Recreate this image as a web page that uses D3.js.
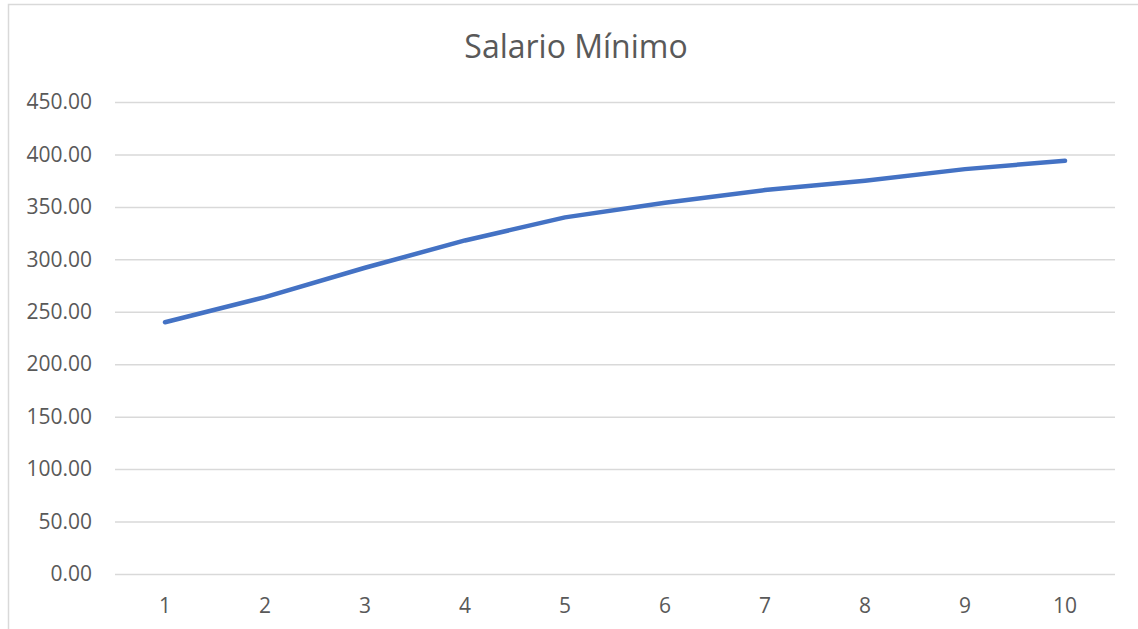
<!DOCTYPE html>
<html>
<head>
<meta charset="utf-8">
<script src="https://cdn.jsdelivr.net/npm/d3@7"></script>
<style>
  html, body { margin: 0; padding: 0; background: #ffffff; }
</style>
</head>
<body>
<div id="chart"></div>
<script>

// chart data
const categories = ["1", "2", "3", "4", "5", "6", "7", "8", "9", "10"];
const salario = [240, 264, 292, 318, 340, 354, 366, 375, 386, 394];
const yTicks = [0, 50, 100, 150, 200, 250, 300, 350, 400, 450];
const chartTitle = "Salario Mínimo";


const W = 1138, H = 629;
const fontFamily = "'Open Sans', 'Noto Sans', sans-serif";
const textColor = "#595959";
const gridColor = "#d9d9d9";

const plot = { left: 115, right: 1115, top: 102, bottom: 574 };


const svg = d3.select("#chart").append("svg")
  .attr("width", W)
  .attr("height", H);

// chart area frame (top and left edges only visible)
svg.append("path")
  .attr("d", "M8.5," + H + "V4.5H" + W)
  .attr("fill", "none")
  .attr("stroke", gridColor)
  .attr("stroke-width", 1.5);


const x = d3.scaleBand()
  .domain(categories)
  .range([plot.left, plot.right]);

const y = d3.scaleLinear()
  .domain([0, 450])
  .range([plot.bottom, plot.top]);


// horizontal gridlines + y labels
const yAxis = d3.axisLeft(y)
  .tickValues(yTicks)
  .tickSize(-(plot.right - plot.left))
  .tickPadding(23)
  .tickFormat(d3.format(".2f"));

const gy = svg.append("g")
  .attr("transform", "translate(" + plot.left + ",0)")
  .call(yAxis);

gy.select(".domain").remove();
gy.selectAll(".tick line")
  .attr("stroke", gridColor)
  .attr("stroke-width", 1.5);
gy.selectAll(".tick text")
  .attr("font-family", fontFamily)
  .attr("font-size", 21)
  .attr("fill", textColor);


// category labels
const xAxis = d3.axisBottom(x)
  .tickSize(0)
  .tickPadding(24);

const gx = svg.append("g")
  .attr("transform", "translate(0," + plot.bottom + ")")
  .call(xAxis);

gx.select(".domain").remove();
gx.selectAll(".tick text")
  .attr("font-family", fontFamily)
  .attr("font-size", 21)
  .attr("fill", textColor);


// the series line
const line = d3.line()
  .x((d, i) => x(categories[i]) + x.bandwidth() / 2)
  .y(d => y(d));

svg.append("path")
  .datum(salario)
  .attr("d", line)
  .attr("fill", "none")
  .attr("stroke", "#4472c4")
  .attr("stroke-width", 4.5)
  .attr("stroke-linecap", "round")
  .attr("stroke-linejoin", "round");


// title
svg.append("text")
  .attr("x", 576)
  .attr("y", 58)
  .attr("text-anchor", "middle")
  .attr("font-family", fontFamily)
  .attr("font-size", 32)
  .attr("fill", textColor)
  .text(chartTitle);

</script>
</body>
</html>
